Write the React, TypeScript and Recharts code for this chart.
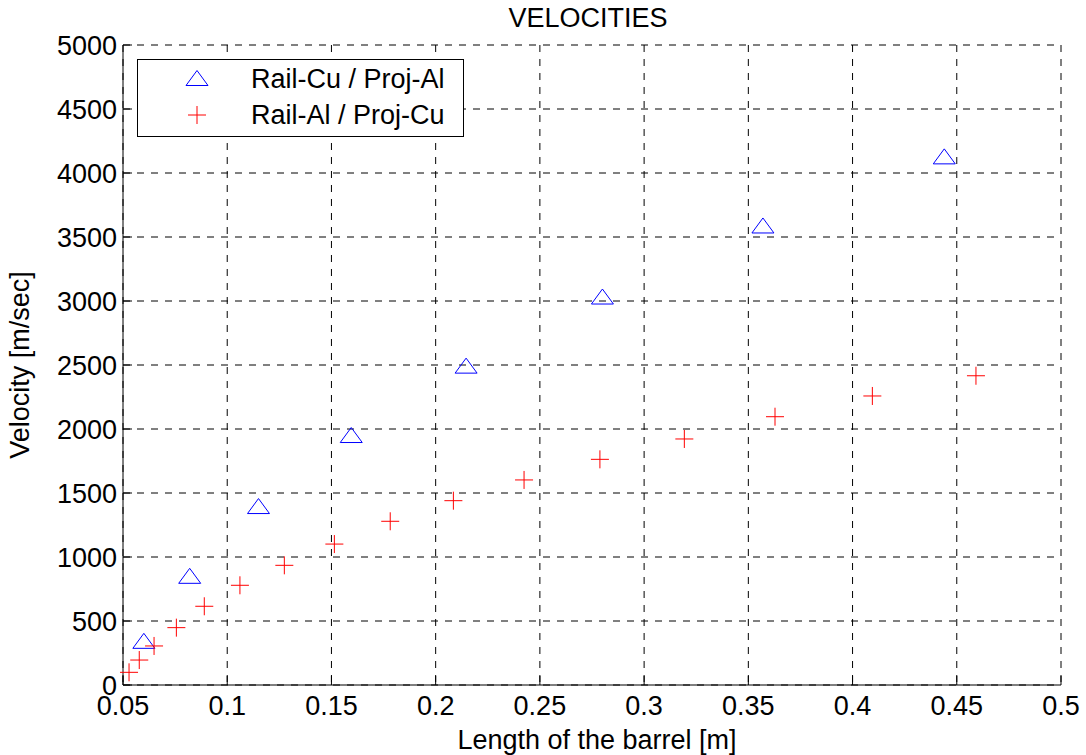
import React from "react";
import { ScatterChart, Scatter, XAxis, YAxis, CartesianGrid, Legend } from "recharts";

// axis ticks
const xTicks = [0.05, 0.1, 0.15, 0.2, 0.25, 0.3, 0.35, 0.4, 0.45, 0.5];
const yTicks = [0, 500, 1000, 1500, 2000, 2500, 3000, 3500, 4000, 4500, 5000];

// Rail-Cu / Proj-Al (blue triangles)
const cuAlLength = [0.06, 0.082, 0.115, 0.1595, 0.2146, 0.28, 0.357, 0.444];
const cuAlVelocity = [345, 853, 1398, 1953, 2495, 3035, 3590, 4130];

// Rail-Al / Proj-Cu (red crosses)
const alCuLength = [
  0.0529, 0.0578, 0.0649, 0.0756, 0.089, 0.1061, 0.1274, 0.1514, 0.1782, 0.2085, 0.2424, 0.2788,
  0.3193, 0.3628, 0.4095, 0.4592,
];
const alCuVelocity = [
  99, 195, 305, 448, 615, 779, 935, 1101, 1279, 1440, 1602, 1763, 1922, 2096, 2258, 2416,
];

const seriesNames = ["Rail-Cu / Proj-Al", "Rail-Al / Proj-Cu"];

const FONT = '"Liberation Sans", Arial, Helvetica, sans-serif';
const FS = 27;
const TICK_LEN = 9;

const cuAl = cuAlLength.map((x, i) => ({ x, y: cuAlVelocity[i] }));
const alCu = alCuLength.map((x, i) => ({ x, y: alCuVelocity[i] }));

function triPoints(cx: number, cy: number) {
  return `${cx},${cy - 7.5} ${cx - 11},${cy + 7.5} ${cx + 11},${cy + 7.5}`;
}

const Triangle = (props: any) => (
  <polygon points={triPoints(props.cx, props.cy)} fill="none" stroke="#0000ff" strokeWidth={1} />
);

const Plus = (props: any) => {
  const { cx, cy } = props;
  return (
    <path
      d={`M${cx - 9},${cy}H${cx + 9}M${cx},${cy - 9}V${cy + 9}`}
      stroke="#ff0000"
      strokeWidth={1}
      fill="none"
    />
  );
};

const BottomTick = ({ x, y, payload }: any) => (
  <g>
    <line x1={x} y1={y} x2={x} y2={y - TICK_LEN} stroke="#000" />
    <text x={x} y={y + 30} textAnchor="middle" fontSize={FS} fontFamily={FONT} fill="#000">
      {String(payload.value)}
    </text>
  </g>
);

const TopTick = ({ x, y }: any) => <line x1={x} y1={y} x2={x} y2={y + TICK_LEN} stroke="#000" />;

const LeftTick = ({ x, y, payload }: any) => (
  <g>
    <line x1={x} y1={y} x2={x + TICK_LEN} y2={y} stroke="#000" />
    <text x={x - 6} y={y + 9.5} textAnchor="end" fontSize={FS} fontFamily={FONT} fill="#000">
      {String(payload.value)}
    </text>
  </g>
);

const RightTick = ({ x, y }: any) => <line x1={x} y1={y} x2={x - TICK_LEN} y2={y} stroke="#000" />;

const LegendBox = () => (
  <svg width={327} height={78} style={{ display: "block" }}>
    <rect x={0.5} y={0.5} width={326} height={77} fill="#fff" stroke="#000" />
    <polygon points={triPoints(60, 19)} fill="none" stroke="#0000ff" />
    <text x={114} y={29} fontSize={FS} fontFamily={FONT} fill="#000">
      {seriesNames[0]}
    </text>
    <path d="M51,56H69M60,47V65" stroke="#ff0000" fill="none" />
    <text x={114} y={65} fontSize={FS} fontFamily={FONT} fill="#000">
      {seriesNames[1]}
    </text>
  </svg>
);

export default function App() {
  return (
    <div style={{ position: "absolute", left: 0, top: 0, background: "#fff" }}>
      <ScatterChart width={1086} height={755} margin={{ top: 45, right: 25, bottom: 0, left: 0 }}>
        <text x={588} y={27} textAnchor="middle" fontSize={FS} fontFamily={FONT} fill="#000">
          VELOCITIES
        </text>
        <CartesianGrid strokeDasharray="7 7" stroke="#000" />
        <XAxis
          dataKey="x"
          type="number"
          domain={[0.05, 0.5]}
          ticks={xTicks}
          height={70}
          tickSize={0}
          tickMargin={0}
          tick={BottomTick}
          axisLine={{ stroke: "#000" }}
          label={({ viewBox }: any) => (
            <text
              x={viewBox.x + viewBox.width / 2 + 5}
              y={viewBox.y + 64}
              textAnchor="middle"
              fontSize={FS}
              fontFamily={FONT}
              fill="#000"
            >
              Length of the barrel [m]
            </text>
          )}
        />
        <XAxis
          xAxisId="top"
          orientation="top"
          type="number"
          domain={[0.05, 0.5]}
          ticks={xTicks}
          height={0}
          tickSize={0}
          tickMargin={0}
          tick={TopTick}
          axisLine={{ stroke: "#000" }}
        />
        <YAxis
          dataKey="y"
          type="number"
          domain={[0, 5000]}
          ticks={yTicks}
          width={123}
          tickSize={0}
          tickMargin={0}
          tick={LeftTick}
          axisLine={{ stroke: "#000" }}
          label={({ viewBox }: any) => {
            const cy = viewBox.y + viewBox.height / 2;
            return (
              <text
                x={29}
                y={cy}
                transform={`rotate(-90, 29, ${cy})`}
                textAnchor="middle"
                fontSize={FS}
                fontFamily={FONT}
                fill="#000"
              >
                Velocity [m/sec]
              </text>
            );
          }}
        />
        <YAxis
          yAxisId="right"
          orientation="right"
          type="number"
          domain={[0, 5000]}
          ticks={yTicks}
          width={0}
          tickSize={0}
          tickMargin={0}
          tick={RightTick}
          axisLine={{ stroke: "#000" }}
        />
        <Legend
          layout="vertical"
          align="center"
          verticalAlign="middle"
          wrapperStyle={{ left: 137, top: 59, width: 327, height: 78 }}
          content={LegendBox}
        />
        <Scatter name={seriesNames[0]} data={cuAl} shape={Triangle} isAnimationActive={false} />
        <Scatter name={seriesNames[1]} data={alCu} shape={Plus} isAnimationActive={false} />
      </ScatterChart>
    </div>
  );
}
